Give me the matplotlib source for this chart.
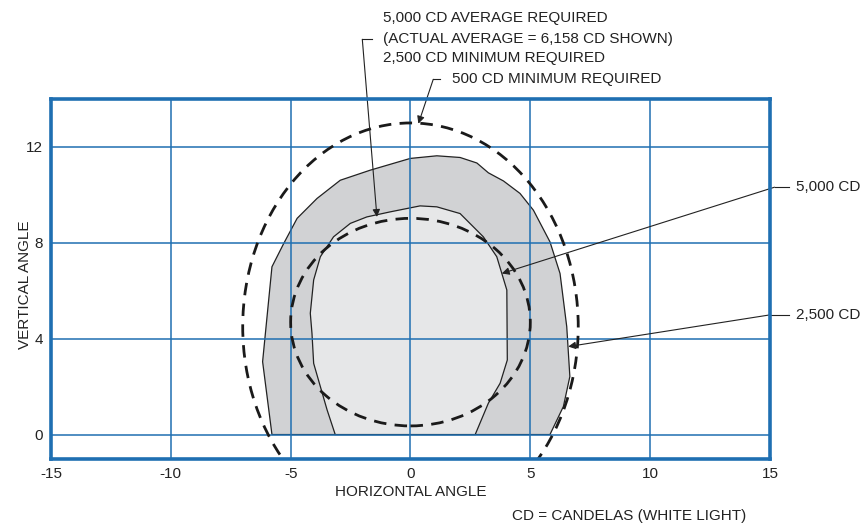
import matplotlib
matplotlib.use("Agg")
import matplotlib.pyplot as plt
import numpy as np
from matplotlib.patches import Ellipse, Polygon

plt.rcParams["font.family"] = ["Liberation Sans Narrow", "Liberation Sans", "DejaVu Sans"]
plt.rcParams["axes.unicode_minus"] = False

# 2,500 CD isocandela contour (outer shaded area)
outer_x = [-5.78, -6.17, -5.78, -5.29, -4.73, -3.90, -2.93, -1.68, -0.01, 1.10, 2.07,
           2.77, 3.25, 3.88, 4.57, 5.13, 5.82, 6.24, 6.52, 6.65, 6.38, 5.82]
outer_y = [0.0, 3.04, 7.00, 7.97, 9.02, 9.85, 10.61, 11.03, 11.52, 11.63, 11.56,
           11.33, 10.92, 10.58, 10.06, 9.36, 8.04, 6.72, 4.50, 2.42, 1.17, 0.0]

# 5,000 CD isocandela contour (inner shaded area)
inner_x = [-3.14, -3.48, -4.04, -4.11, -4.18, -4.04, -3.76, -3.21, -2.51, -1.82, -0.85,
           0.40, 1.10, 2.07, 3.04, 3.60, 4.02, 4.04, 3.74, 3.25, 2.70]
inner_y = [0.0, 1.03, 2.97, 4.22, 5.06, 6.45, 7.42, 8.25, 8.81, 9.08, 9.29,
           9.54, 9.50, 9.22, 8.25, 7.42, 6.03, 3.11, 2.14, 1.31, 0.0]

# required zones (dashed ellipses): center x, center y, half-width, half-height
req_500 = (0.0, 4.5, 7.0, 8.5)
req_2500 = (0.0, 4.69, 5.0, 4.33)

x_ticks = [-15, -10, -5, 0, 5, 10, 15]
y_ticks = [0, 4, 8, 12]

blue = "#1f6fb2"
fig = plt.figure(figsize=(8.67, 5.26), dpi=100)
ax = fig.add_axes([0.0588, 0.1283, 0.8293, 0.6835])
ax.set_xlim(-15, 15)
ax.set_ylim(-1, 14)

ax.add_patch(Polygon(np.column_stack([outer_x, outer_y]), closed=True,
                     facecolor="#d1d2d4", edgecolor="#222222", lw=0.9, zorder=1))
ax.add_patch(Polygon(np.column_stack([inner_x, inner_y]), closed=True,
                     facecolor="#e6e7e8", edgecolor="#222222", lw=0.9, zorder=1.1))

for cx, cy, a, b in (req_500, req_2500):
    ax.add_patch(Ellipse((cx, cy), 2 * a, 2 * b, fill=False, edgecolor="#1a1a1a",
                         lw=2.0, linestyle=(0, (4.5, 3)), zorder=3))

ax.set_xticks(x_ticks)
ax.set_yticks(y_ticks)
ax.grid(True, color=blue, lw=1.1, zorder=2)
ax.set_axisbelow(False)
ax.tick_params(length=0, labelsize=11, colors="#222222", pad=6)
for s in ax.spines.values():
    s.set_color(blue)
    s.set_linewidth(2.6)
    s.set_zorder(4)

ax.set_xlabel("HORIZONTAL ANGLE", fontsize=11, color="#222222", va="center")
ax.set_ylabel("VERTICAL ANGLE", fontsize=11, color="#222222", va="center")
ax.xaxis.set_label_coords(0.5, -0.093)
ax.yaxis.set_label_coords(-0.036, 0.483)

txt = dict(fontsize=11, color="#222222", va="center", ha="left", clip_on=False)
arrow = dict(arrowstyle="-|>", lw=0.8, color="#222222", mutation_scale=11,
             shrinkA=0, shrinkB=0)

# top-left callout
ax.text(-1.14, 17.36, "5,000 CD AVERAGE REQUIRED", **txt)
ax.text(-1.14, 16.49, "(ACTUAL AVERAGE = 6,158 CD SHOWN)", **txt)
ax.text(-1.14, 15.70, "2,500 CD MINIMUM REQUIRED", **txt)
ax.plot([-2.01, -1.6], [16.49, 16.49], color="#222222", lw=0.8, clip_on=False)
ax.annotate("", xy=(-1.4, 9.08), xytext=(-2.01, 16.49), arrowprops=arrow,
            annotation_clip=False)

# 500 CD callout
ax.text(1.74, 14.82, "500 CD MINIMUM REQUIRED", **txt)
ax.plot([0.95, 1.25], [14.82, 14.82], color="#222222", lw=0.8, clip_on=False)
ax.annotate("", xy=(0.33, 12.97), xytext=(0.95, 14.82), arrowprops=arrow,
            annotation_clip=False)

# right-side callouts
ax.text(16.1, 10.32, "5,000 CD", **txt)
ax.plot([15.19, 15.8], [10.32, 10.32], color="#222222", lw=0.8, clip_on=False)
ax.annotate("", xy=(3.81, 6.72), xytext=(15.19, 10.32), arrowprops=arrow,
            annotation_clip=False)

ax.text(16.1, 4.99, "2,500 CD", **txt)
ax.plot([14.98, 15.8], [4.99, 4.99], color="#222222", lw=0.8, clip_on=False)
ax.annotate("", xy=(6.58, 3.67), xytext=(14.98, 4.99), arrowprops=arrow,
            annotation_clip=False)

fig.text(512 / 867, 1 - 516 / 526, "CD = CANDELAS (WHITE LIGHT)", fontsize=11,
         color="#222222", ha="left", va="center")

fig.savefig("out.png", dpi=100)
